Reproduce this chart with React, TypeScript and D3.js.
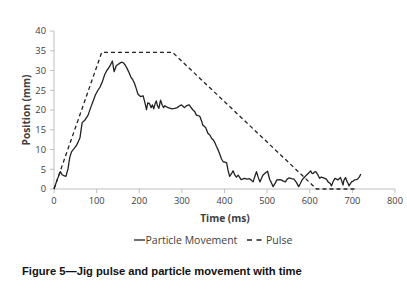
import React from "react";
import * as d3 from "d3";

const particleTime = [0, 8, 15, 19, 23, 28, 33, 37, 41, 47, 52, 57, 61, 66, 72, 80, 86, 91, 97, 103, 108, 113, 119, 124, 128, 133, 137, 141, 146, 150, 154, 158, 162, 167, 171, 176, 180, 185, 189, 193, 197, 203, 209, 213, 217, 220, 224, 228, 231, 234, 237, 240, 243, 246, 250, 254, 257, 260, 265, 271, 277, 283, 289, 294, 299, 303, 306, 311, 317, 321, 326, 330, 334, 338, 342, 346, 349, 353, 356, 361, 366, 370, 374, 378, 381, 385, 389, 393, 397, 401, 405, 408, 412, 416, 420, 424, 428, 432, 439, 447, 453, 459, 463, 467, 471, 475, 479, 483, 487, 490, 495, 501, 506, 510, 514, 519, 523, 528, 533, 538, 543, 547, 551, 557, 563, 569, 574, 578, 582, 587, 592, 597, 602, 605, 608, 611, 614, 619, 623, 627, 631, 635, 639, 643, 648, 651, 655, 659, 663, 666, 669, 672, 675, 678, 680, 684, 687, 690, 692, 695, 698, 702, 705, 709, 712, 716, 720];
const particleValue = [0, 2.5, 4.4, 3.6, 3.4, 3.2, 5.2, 8.0, 9.4, 10.2, 10.9, 12.0, 13.0, 16.8, 17.4, 18.7, 20.6, 22.0, 23.8, 25.0, 25.8, 27.0, 29.0, 30.0, 30.6, 31.5, 32.4, 29.7, 31.2, 31.5, 31.8, 32.1, 32.0, 31.4, 30.6, 29.5, 28.4, 27.6, 26.7, 25.4, 24.0, 23.4, 23.6, 22.0, 20.1, 21.8, 21.6, 20.6, 21.3, 20.3, 21.5, 22.3, 21.0, 20.4, 22.5, 21.2, 20.6, 21.1, 20.7, 20.5, 20.3, 20.4, 20.6, 21.0, 21.3, 20.9, 20.6, 21.1, 21.3, 20.7, 20.0, 19.6, 18.7, 18.6, 18.4, 17.3, 16.2, 15.8, 15.5, 14.1, 13.6, 12.8, 12.4, 11.6, 10.8, 9.9, 8.8, 7.6, 6.9, 6.8, 6.6, 4.9, 3.2, 3.8, 4.6, 3.6, 3.0, 3.5, 2.4, 2.7, 2.5, 2.6, 2.2, 1.8, 3.1, 4.4, 3.0, 1.8, 2.7, 3.5, 4.0, 4.5, 2.4, 1.6, 0.6, 1.5, 2.3, 2.4, 2.3, 2.0, 1.8, 2.5, 2.8, 2.6, 2.5, 1.6, 0.6, 1.4, 2.3, 2.9, 3.5, 4.0, 4.6, 4.0, 3.9, 4.3, 4.4, 3.6, 2.7, 3.0, 2.9, 2.7, 2.5, 1.8, 1.4, 0.8, 1.9, 2.7, 2.5, 2.3, 2.6, 2.9, 2.0, 1.0, 2.2, 2.9, 2.0, 1.4, 0.8, 1.3, 1.8, 2.0, 2.3, 2.4, 2.5, 3.0, 3.8];

const pulseTime = [0, 112, 278, 616, 712];
const pulseValue = [0, 34.6, 34.6, 0, 0];

const xTicks = [0, 100, 200, 300, 400, 500, 600, 700, 800];
const yTicks = [0, 5, 10, 15, 20, 25, 30, 35, 40];

const xLabel = "Time (ms)";
const yLabel = "Position (mm)";
const seriesNames = ["Particle Movement", "Pulse"];
const caption = "Figure 5\u2014Jig pulse and particle movement with time";

export default function App() {
  const W = 407, H = 289;
  const x = d3.scaleLinear().domain([0, 800]).range([54, 395]);
  const y = d3.scaleLinear().domain([0, 40]).range([189, 31]);
  const particle = particleTime.map((t, i) => [t, particleValue[i]] as [number, number]);
  const pulse = pulseTime.map((t, i) => [t, pulseValue[i]] as [number, number]);
  const line = d3.line<[number, number]>().x(d => x(d[0])).y(d => y(d[1]));
  const axisColor = "#bfbfbf";
  const textColor = "#404040";
  const font = "'Open Sans', sans-serif";
  return (
    <svg width={W} height={H} style={{ position: "absolute", left: 0, top: 0, background: "#fff" }}>
      <rect width={W} height={H} fill="#fff" />
      {/* axes */}
      <line x1={x(0)} x2={x(0)} y1={y(40)} y2={y(0)} stroke={axisColor} strokeWidth={1} />
      <line x1={x(0)} x2={x(800)} y1={y(0)} y2={y(0)} stroke={axisColor} strokeWidth={1} />
      {yTicks.map(t => (
        <g key={"y" + t}>
          <line x1={x(0) - 4} x2={x(0)} y1={y(t)} y2={y(t)} stroke={axisColor} />
          <text x={x(0) - 8} y={y(t)} dy="0.35em" textAnchor="end" fontSize={9.3} fontFamily={font} fill={textColor}>{t}</text>
        </g>
      ))}
      {xTicks.map(t => (
        <g key={"x" + t}>
          <line x1={x(t)} x2={x(t)} y1={y(0)} y2={y(0) + 4} stroke={axisColor} />
          <text x={x(t)} y={y(0) + 15} textAnchor="middle" fontSize={9.3} fontFamily={font} fill={textColor}>{t}</text>
        </g>
      ))}
      <text x={225} y={221.5} textAnchor="middle" fontSize={10.2} fontWeight="bold" fontFamily={font} fill={textColor}>{xLabel}</text>
      <text transform={`translate(29.5,${(y(0) + y(40)) / 2}) rotate(-90)`} textAnchor="middle" fontSize={10.2} fontWeight="bold" fontFamily={font} fill={textColor}>{yLabel}</text>
      {/* series */}
      <path d={line(pulse) || ""} fill="none" stroke="#222" strokeWidth={1.3} strokeDasharray="4,3" />
      <path d={line(particle) || ""} fill="none" stroke="#222" strokeWidth={1.3} strokeLinejoin="round" />
      {/* legend */}
      <line x1={134} x2={145} y1={240} y2={240} stroke="#222" strokeWidth={1.3} />
      <text x={145.5} y={243.8} fontSize={10.5} fontFamily={font} fill={textColor}>{seriesNames[0]}</text>
      <line x1={247} x2={262} y1={240} y2={240} stroke="#222" strokeWidth={1.3} strokeDasharray="5,4.5" />
      <text x={266} y={243.8} fontSize={10.5} fontFamily={font} fill={textColor}>{seriesNames[1]}</text>
      {/* caption */}
      <text x={22} y={275} fontSize={11.2} fontWeight="bold" fontFamily="'Liberation Sans', Arial, sans-serif" fill="#111">{caption}</text>
    </svg>
  );
}
